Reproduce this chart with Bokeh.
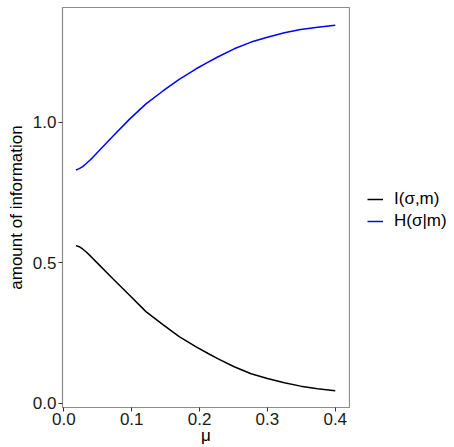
from bokeh.plotting import figure
from bokeh.layouts import row
from bokeh.models import Legend, LegendItem, FixedTicker, Range1d, CustomJSTickFormatter
from bokeh.embed import file_html
from bokeh.resources import INLINE

mu = [0.0178, 0.0227, 0.0277, 0.0326, 0.0375, 0.0424, 0.0473, 0.0719, 0.0965, 0.121,
      0.146, 0.170, 0.195, 0.212, 0.226, 0.251, 0.276, 0.300, 0.325, 0.349,
      0.374, 0.400]
info_I = [0.561, 0.557, 0.549, 0.539, 0.528, 0.516, 0.504, 0.444, 0.385, 0.326,
          0.280, 0.237, 0.201, 0.178, 0.160, 0.130, 0.105, 0.088, 0.073, 0.061,
          0.052, 0.045]
info_H = [0.830, 0.835, 0.842, 0.852, 0.863, 0.874, 0.887, 0.949, 1.010, 1.065,
          1.111, 1.152, 1.190, 1.213, 1.231, 1.261, 1.285, 1.302, 1.318, 1.330,
          1.338, 1.345]
x_ticks = [0.0, 0.1, 0.2, 0.3, 0.4]
y_ticks = [0.0, 0.5, 1.0]
labels = ["I(\u03c3,m)", "H(\u03c3|m)"]
colors = ["black", "blue"]

FONT = "Liberation Sans"
FS = "17px"

p = figure(width=350, height=447, output_backend="svg", toolbar_location=None,
           x_range=Range1d(-0.002, 0.421), y_range=Range1d(-0.015, 1.408),
           min_border_left=62, min_border_top=7, min_border_bottom=40, min_border_right=1)
p.background_fill_color = "white"
p.border_fill_color = "white"
p.outline_line_color = "#8c8c8c"
p.outline_line_width = 1.2
p.grid.visible = False

p.line(mu, info_I, line_color=colors[0], line_width=1.5)
p.line(mu, info_H, line_color=colors[1], line_width=1.5)

fmt = CustomJSTickFormatter(code="return tick.toFixed(1);")
for ax, ticks in ((p.xaxis[0], x_ticks), (p.yaxis[0], y_ticks)):
    ax.ticker = FixedTicker(ticks=ticks)
    ax.formatter = fmt
    ax.axis_line_color = None
    ax.major_tick_line_color = "#333333"
    ax.major_tick_in = 0
    ax.major_tick_out = 4
    ax.minor_tick_line_color = None
    ax.major_label_text_font = FONT
    ax.major_label_text_font_size = FS
    ax.major_label_text_color = "#1a1a1a"
    ax.axis_label_text_font = FONT
    ax.axis_label_text_font_size = FS
    ax.axis_label_text_font_style = "normal"
    ax.axis_label_text_color = "black"

p.xaxis[0].axis_label = "\u03bc"
p.xaxis[0].major_label_standoff = 1
p.xaxis[0].axis_label_standoff = -2
p.yaxis[0].axis_label = "amount of information"
p.yaxis[0].major_label_standoff = 2
p.yaxis[0].axis_label_standoff = 4

# legend panel (its lines hold the same data but lie outside its visible ranges)
lg = figure(width=104, height=447, output_backend="svg", toolbar_location=None,
            x_range=Range1d(10, 11), y_range=Range1d(10, 11),
            min_border=0)
lg.axis.visible = False
lg.grid.visible = False
lg.outline_line_color = None
lg.background_fill_color = "white"
lg.border_fill_color = "white"
items = []
for lab, col, ys in zip(labels, colors, (info_I, info_H)):
    r = lg.line(mu, ys, line_color=col, line_width=1.5)
    items.append(LegendItem(label=lab, renderers=[r]))
legend = Legend(items=items, location=(17, 175), border_line_color=None,
                background_fill_alpha=0,
                label_text_font=FONT, label_text_font_size=FS, label_text_color="black",
                glyph_width=16, glyph_height=22, spacing=0, margin=0,
                label_standoff=11, padding=0)
lg.add_layout(legend, "center")

layout = row(p, lg, spacing=0)
open("out.html", "w").write(file_html(layout, INLINE))
